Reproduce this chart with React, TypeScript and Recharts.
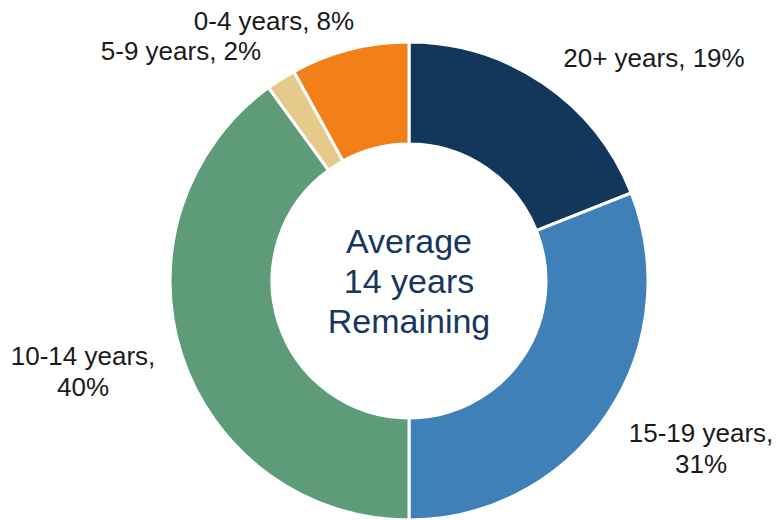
import React from "react";
import { PieChart, Pie, Cell, Label } from "recharts";

const categories = ["20+ years", "15-19 years", "10-14 years", "5-9 years", "0-4 years"];
const shares = [19, 31, 40, 2, 8];
const labelLines = [
  ["20+ years, 19%"],
  ["15-19 years,", "31%"],
  ["10-14 years,", "40%"],
  ["5-9 years, 2%"],
  ["0-4 years, 8%"],
];
const centerLines = ["Average", "14 years", "Remaining"];

const colors = ["#12375A", "#4080B9", "#5E9B78", "#E6CA8C", "#F27F18"];
// label anchor offsets from the pie centre (first-line baseline, text centred)
const labelOffsets: [number, number][] = [
  [245, -214],
  [292, 161],
  [-326, 84],
  [-228, -221],
  [-135, -251],
];

const CX = 409;
const CY = 281;

const data = categories.map((name, i) => ({ name, value: shares[i] }));

const FONT = "'Liberation Sans', Arial, sans-serif";

const renderLabel = (props: any) => {
  const { cx, cy, index } = props;
  const [dx, dy] = labelOffsets[index];
  const lines = labelLines[index];
  return (
    <text
      key={`lbl-${index}`}
      x={cx + dx}
      y={cy + dy}
      textAnchor="middle"
      fill="#1a1a1a"
      fontSize={26}
      fontFamily={FONT}
    >
      {lines.map((l, i) => (
        <tspan key={i} x={cx + dx} dy={i === 0 ? 0 : 31}>
          {l}
        </tspan>
      ))}
    </text>
  );
};

const CenterText = () => {
  return (
    <text x={CX} y={CY - 28} textAnchor="middle" fill="#17375E" fontSize={34} fontFamily={FONT}>
      {centerLines.map((l, i) => (
        <tspan key={i} x={CX} dy={i === 0 ? 0 : 40}>
          {l}
        </tspan>
      ))}
    </text>
  );
};

export default function App() {
  return (
    <div style={{ position: "absolute", left: 0, top: 0, width: 777, height: 520, background: "#fff" }}>
      <PieChart width={777} height={520} margin={{ top: 0, right: 0, bottom: 0, left: 0 }}>
        <Pie
          data={data}
          dataKey="value"
          nameKey="name"
          cx={CX}
          cy={CY}
          innerRadius={137}
          outerRadius={239}
          startAngle={90}
          endAngle={-270}
          stroke="#ffffff"
          strokeWidth={3}
          label={renderLabel}
          labelLine={false}
          isAnimationActive={false}
        >
          {data.map((d, i) => (
            <Cell key={d.name} fill={colors[i]} />
          ))}
          <Label position="center" content={<CenterText />} />
        </Pie>
      </PieChart>
    </div>
  );
}
